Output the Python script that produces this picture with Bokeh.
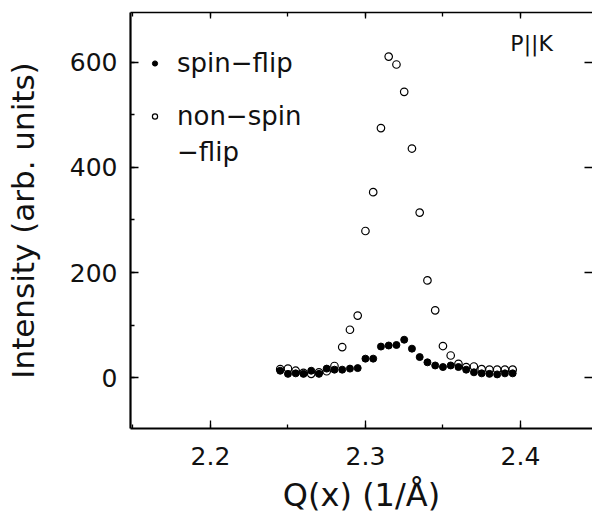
from bokeh.plotting import figure
from bokeh.models import (Range1d, LinearAxis, SingleIntervalTicker, Legend, LegendItem, Label)
from bokeh.embed import file_html
from bokeh.resources import INLINE

# ---- data ----
q = [2.245, 2.250, 2.255, 2.260, 2.265, 2.270, 2.275, 2.280, 2.285, 2.290,
     2.295, 2.300, 2.305, 2.310, 2.315, 2.320, 2.325, 2.330, 2.335, 2.340,
     2.345, 2.350, 2.355, 2.360, 2.365, 2.370, 2.375, 2.380, 2.385, 2.390, 2.395]
spin_flip = [13, 7, 8, 7, 13, 7, 17, 15, 15, 17,
             18, 36, 36, 59, 61, 62, 72, 55, 39, 29,
             23, 20, 23, 20, 15, 10, 8, 7, 6, 8, 8]
non_spin_flip = [16, 17, 13, 9, 7, 10, 12, 22, 58, 91,
                 118, 279, 353, 475, 611, 596, 544, 436, 314, 185,
                 128, 60, 42, 26, 20, 21, 16, 15, 15, 15, 15]
x_label = "Q(x) (1/Å)"
y_label = "Intensity (arb. units)"

FONT = "DejaVu Sans"

p = figure(width=592, height=525, output_backend="svg", toolbar_location=None,
           x_range=Range1d(2.1484, 2.4465), y_range=Range1d(-97, 695),
           min_border_left=130, min_border_right=0, min_border_top=12, min_border_bottom=97,
           x_axis_location=None, y_axis_location=None)
p.outline_line_color = None
p.grid.visible = False
p.background_fill_color = "white"
p.border_fill_color = "white"

def style_axis(ax, show_labels, line_w):
    ax.axis_line_color = "black"
    ax.axis_line_width = line_w
    ax.major_tick_in = 8
    ax.major_tick_out = 0
    ax.minor_tick_in = 4
    ax.minor_tick_out = 0
    ax.major_tick_line_width = 1.3
    ax.minor_tick_line_width = 1.3
    ax.major_label_text_font = FONT
    ax.major_label_text_font_size = "25px"
    ax.major_label_text_color = "#111111"
    ax.axis_label_text_font = FONT
    ax.axis_label_text_font_style = "normal"
    ax.axis_label_text_color = "#111111"
    if not show_labels:
        ax.major_label_text_font_size = "0px"
        ax.major_label_text_alpha = 0

xb = LinearAxis(ticker=SingleIntervalTicker(interval=0.1, num_minor_ticks=2), axis_label=x_label)
style_axis(xb, True, 2.2)
xb.axis_label_text_font_size = "32px"
xb.major_label_standoff = 18
xb.axis_label_standoff = 8
p.add_layout(xb, "below")

xt = LinearAxis(ticker=SingleIntervalTicker(interval=0.1, num_minor_ticks=2))
style_axis(xt, False, 1.5)
xt.major_tick_in = 6
p.add_layout(xt, "above")

yl = LinearAxis(ticker=SingleIntervalTicker(interval=200, num_minor_ticks=2), axis_label=y_label)
style_axis(yl, True, 2.2)
yl.axis_label_text_font_size = "31px"
yl.major_label_standoff = 13
yl.axis_label_standoff = 26
p.add_layout(yl, "left")

yr = LinearAxis(ticker=SingleIntervalTicker(interval=200, num_minor_ticks=2))
style_axis(yr, False, 0)
yr.axis_line_color = None
yr.minor_tick_line_color = None
p.add_layout(yr, "right")

r_open = p.scatter(q, non_spin_flip, marker="circle", size=7.5, fill_color=None,
                   line_color="black", line_width=1.2)
r_fill = p.scatter(q, spin_flip, marker="circle", size=7, fill_color="black",
                   line_color="black", line_width=1)
r_blank = p.scatter([], [], marker="circle", size=7, fill_alpha=0, line_alpha=0)

common = dict(border_line_color=None, background_fill_alpha=0, padding=0, margin=0,
              glyph_width=13, glyph_height=36, label_height=36, spacing=0,
              label_standoff=16, label_text_font=FONT, label_text_font_size="26px",
              label_text_color="#111111")
leg_a = Legend(items=[LegendItem(label="spin\u2212flip", renderers=[r_fill])],
               location=(18, 347), **common)
leg_b = Legend(items=[LegendItem(label="non\u2212spin", renderers=[r_open]),
                      LegendItem(label="\u2212flip", renderers=[r_blank])],
               location=(18, 258), **common)
p.add_layout(leg_a)
p.add_layout(leg_b)

p.add_layout(Label(x=2.3935, y=636, text="P||K", text_font=FONT, text_font_size="22px",
                   text_baseline="middle", text_align="left", text_color="#111111"))

open("out.html", "w").write(file_html(p, INLINE))
